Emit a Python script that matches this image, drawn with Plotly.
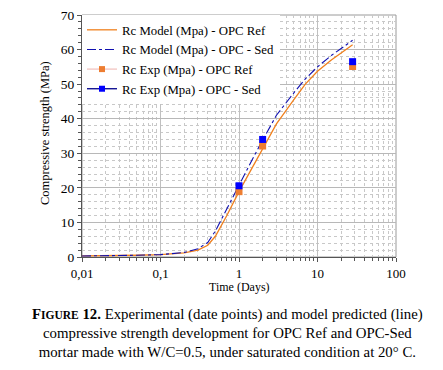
import plotly.graph_objects as go

# Model curves (time in days, strength in MPa)
t_model = [0.01, 0.02, 0.05, 0.1, 0.2, 0.3, 0.4, 0.5, 0.7, 1, 1.5, 2, 3, 5, 7, 10, 15, 20, 28]
rc_model_ref = [0.3, 0.35, 0.5, 0.7, 1.2, 2.0, 3.4, 6.0, 12.0, 18.9, 26.0, 31.0, 38.5, 45.5, 50.0, 53.7, 57.0, 59.0, 61.4]
rc_model_sed = [0.3, 0.35, 0.5, 0.7, 1.3, 2.4, 4.2, 7.5, 14.0, 20.8, 28.5, 33.8, 41.0, 47.5, 51.5, 55.0, 58.3, 60.3, 62.7]

# Experimental points
t_exp = [1, 2, 28]
rc_exp_ref = [18.9, 32.1, 55.1]
rc_exp_sed = [20.6, 34.0, 56.5]

names = ["Rc Model (Mpa) - OPC Ref", "Rc Model (Mpa) - OPC - Sed",
         "Rc Exp (Mpa) - OPC Ref", "Rc Exp (Mpa) - OPC - Sed"]

FONT = "Liberation Serif, Times New Roman, serif"
ORANGE = "#f0801e"

fig = go.Figure()
fig.add_trace(go.Scatter(x=t_model, y=rc_model_ref, mode="lines", name=names[0],
                         line=dict(color=ORANGE, width=1.3)))
fig.add_trace(go.Scatter(x=t_model, y=rc_model_sed, mode="lines", name=names[1],
                         line=dict(color="#1010b0", width=1.1, dash="dashdot")))
# legend entries for experimental series (line + marker as in the reference legend)
fig.add_trace(go.Scatter(x=[None], y=[None], mode="lines+markers", name=names[2],
                         line=dict(color="#f2c4c0", width=1.3),
                         marker=dict(symbol="square", size=6, color="#ed7d31")))
fig.add_trace(go.Scatter(x=[None], y=[None], mode="lines+markers", name=names[3],
                         line=dict(color="#00008b", width=1.3),
                         marker=dict(symbol="square", size=6, color="#0000ff")))
fig.add_trace(go.Scatter(x=t_exp, y=rc_exp_ref, mode="markers", showlegend=False,
                         marker=dict(symbol="square", size=7, color="#ed7d31")))
fig.add_trace(go.Scatter(x=t_exp, y=rc_exp_sed, mode="markers", showlegend=False,
                         marker=dict(symbol="square", size=7, color="#0000ff")))

# page body has an 8px default margin, so margins are offset accordingly
PLOT_TOP, PLOT_BOTTOM = 15.0, 257.0
PLOT_H = PLOT_BOTTOM - PLOT_TOP
caption = ("<b>F<span style='font-size:11.5px'>IGURE</span> 12.</b> Experimental (date points) and model predicted (line)<br>"
           "compressive strength development for OPC Ref and OPC-Sed<br>"
           "mortar made with W/C=0.5, under saturated condition at 20° C.")
fig.add_annotation(text=caption, xref="paper", yref="paper", x=0.462, y=-(304.0 - PLOT_BOTTOM) / PLOT_H,
                   xanchor="center", yanchor="top", showarrow=False, align="center",
                   font=dict(family=FONT, size=14.8, color="black"))
fig.add_annotation(text="Time (Days)", xref="paper", yref="paper", x=0.5, y=-(287 - PLOT_BOTTOM) / PLOT_H,
                   xanchor="center", yanchor="middle", showarrow=False,
                   font=dict(family=FONT, size=12, color="black"))
fig.add_annotation(text="Compressive strength (MPa)", xref="paper", yref="paper",
                   x=-(82 - 45) / 314.0, y=(PLOT_BOTTOM - 133) / PLOT_H, textangle=-90,
                   xanchor="center", yanchor="middle", showarrow=False,
                   font=dict(family=FONT, size=12.5, color="black"))

fig.update_layout(
    width=443, height=370,
    margin=dict(l=74, r=55, t=PLOT_TOP - 8, b=370 + 8 - PLOT_BOTTOM, autoexpand=False),
    paper_bgcolor="white", plot_bgcolor="white",
    separators=",.",
    font=dict(family=FONT, color="black"),
    showlegend=True,
    legend=dict(x=0.0, y=1.0, xanchor="left", yanchor="top", bgcolor="white",
                font=dict(family=FONT, size=12.8), tracegroupgap=0,
                itemwidth=30, borderwidth=0),
    xaxis=dict(type="log", range=[-2, 2], dtick=1, automargin=False,
               tickfont=dict(family=FONT, size=13),
               showline=True, linecolor="#555555", linewidth=1, mirror=False,
               ticks="outside", ticklen=4, tickcolor="#555555",
               showgrid=True, gridcolor="#c0c0c0", gridwidth=1,
               zeroline=False,
               minor=dict(dtick="D1", ticks="outside", ticklen=3, tickcolor="#555555",
                          showgrid=True, gridcolor="#c8c8c8", griddash="dot", gridwidth=1)),
    yaxis=dict(range=[0, 70], dtick=10, automargin=False, ticklabeloverflow="allow",
               tickfont=dict(family=FONT, size=13.5),
               showline=True, linecolor="#555555", linewidth=1,
               ticks="outside", ticklen=4, tickcolor="#555555",
               showgrid=True, gridcolor="#b8b8b8", gridwidth=1,
               zeroline=False,
               minor=dict(dtick=2, ticks="outside", ticklen=3, tickcolor="#555555",
                          showgrid=True, gridcolor="#c8c8c8", griddash="dot", gridwidth=1)),
)
# gray frame on top/right
fig.add_shape(type="rect", xref="paper", yref="paper", x0=0, x1=1, y0=0, y1=1,
              line=dict(color="#9a9a9a", width=1), layer="below")

fig.write_html("out.html")
